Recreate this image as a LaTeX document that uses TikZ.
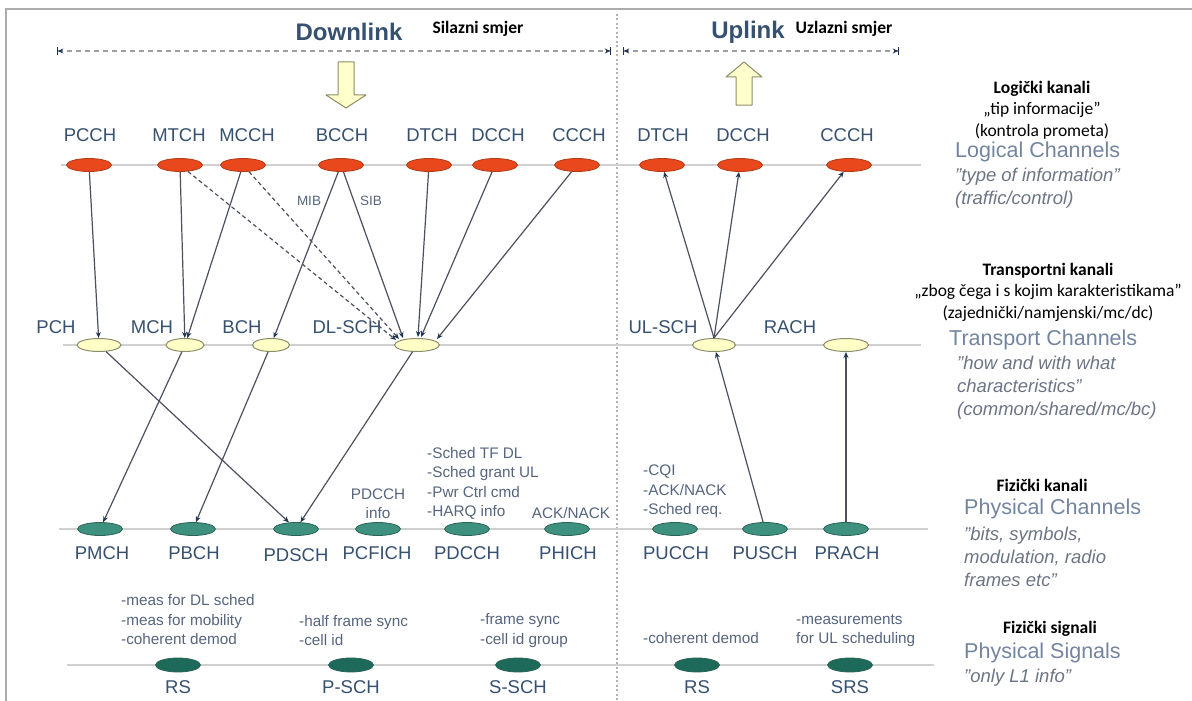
\documentclass[tikz,border=0pt]{standalone}
\usepackage{fontspec}
\setmainfont{Liberation Sans}
\newfontfamily\calibri{Carlito}
\usepackage{tikz}
\usetikzlibrary{shapes.geometric, arrows.meta, positioning, calc}
\definecolor{LTE_Red}{HTML}{E8481C}
\definecolor{LTE_RedEdge}{HTML}{B23A16}
\definecolor{LTE_Cream}{HTML}{FFFFC6}
\definecolor{LTE_CreamEdge}{HTML}{8C8C6E}
\definecolor{LTE_Teal}{HTML}{3E907F}
\definecolor{LTE_TealEdge}{HTML}{2B6457}
\definecolor{LTE_DarkTeal}{HTML}{1D6A5A}
\definecolor{LTE_Navy}{HTML}{36506F}
\definecolor{LTE_Slate}{HTML}{56657E}
\definecolor{LTE_Head}{HTML}{7485A0}
\definecolor{LTE_Grey}{HTML}{6D7585}
\definecolor{LTE_Line}{HTML}{4D5060}
\definecolor{LTE_Tip}{HTML}{1F3552}
\definecolor{LTE_Rule}{HTML}{D0D0D0}
\definecolor{LTE_Block}{HTML}{FFFFCC}

\begin{document}
\begin{tikzpicture}[x=1pt, y=-1pt,
    logch/.style={ellipse, draw=LTE_RedEdge, fill=LTE_Red, line width=0.8pt, minimum width=45pt, minimum height=13pt, inner sep=0pt},
    trch/.style={ellipse, draw=LTE_CreamEdge, fill=LTE_Cream, line width=1pt, minimum width=42pt, minimum height=13pt, inner sep=0pt},
    phch/.style={ellipse, draw=LTE_TealEdge, fill=LTE_Teal, line width=0.8pt, minimum width=45pt, minimum height=13pt, inner sep=0pt},
    phsig/.style={ellipse, draw=LTE_TealEdge, fill=LTE_DarkTeal, line width=0.8pt, minimum width=45pt, minimum height=14pt, inner sep=0pt},
    chlabel/.style={text=LTE_Navy, font=\fontsize{18.5}{20}\selectfont, inner sep=0pt},
    note/.style={text=LTE_Slate, font=\fontsize{15.3}{19.5}\selectfont, align=left, inner sep=0pt},
    hrlabel/.style={font=\calibri\fontsize{17.5}{21.5}\selectfont, align=center, inner sep=0pt},
    enhead/.style={text=LTE_Head, font=\fontsize{21.5}{23}\selectfont, anchor=west, inner sep=0pt},
    enit/.style={text=LTE_Grey, font=\itshape\fontsize{18.5}{23}\selectfont, anchor=west, align=left, inner sep=0pt},
    chanarrow/.style={draw=LTE_Line, line width=1.2pt, -{Stealth[length=6pt, width=5pt, color=LTE_Tip]}},
    dasharrow/.style={chanarrow, dash pattern=on 4pt off 3pt},
    layerline/.style={draw=LTE_Rule, line width=1.2pt},
    spanline/.style={draw=gray!75, line width=1.2pt, dash pattern=on 5pt off 4pt,
        {Bar[width=8pt, color=LTE_Tip]Stealth[length=5pt, width=5pt, color=LTE_Tip]}-{Stealth[length=5pt, width=5pt, color=LTE_Tip]Bar[width=8pt, color=LTE_Tip]}},
    blockarrow/.style={draw=gray!70!olive, fill=LTE_Block, line width=1pt, line join=round}]

    \useasboundingbox (0,0) rectangle (1192,701);
    \fill[white] (0,0) rectangle (1192,701);

    % ===== Frame and divider =====
    \draw[gray!65, line width=2.5pt] (6,701) -- (6,9) -- (1192,9);
    \draw[gray!60, line width=1.2pt, dash pattern=on 2pt off 2.5pt] (617,14) -- (617,701);

    % Layer lines
    \draw[layerline] (61,165) -- (921,165);
    \draw[layerline] (63,345) -- (921,345);
    \draw[layerline] (59,529) -- (928,529);
    \draw[layerline] (67,665) -- (934,665);

    % ===== Header: directions =====
    \node[text=LTE_Navy, font=\bfseries\fontsize{24}{26}\selectfont] (dl) at (349,32) {Downlink};
    \node[font=\calibri\bfseries\fontsize{17.5}{19}\selectfont] (dlhr) at (478,29) {Silazni smjer};
    \node[text=LTE_Navy, font=\bfseries\fontsize{24}{26}\selectfont] (ul) at (748,32) {Uplink};
    \node[font=\calibri\bfseries\fontsize{17.5}{19}\selectfont] (ulhr) at (844,29) {Uzlazni smjer};

    \coordinate (dlL) at (57,51);
    \coordinate (dlR) at (611,51);
    \coordinate (ulL) at (623,51);
    \coordinate (ulR) at (899,51);
    \draw[spanline] (dlL) -- (dlR);
    \draw[spanline] (ulL) -- (ulR);

    % Direction block arrows
    \draw[blockarrow] (338,62) -- (354,62) -- (354,95) -- (366,95) -- (346,108) -- (326,95) -- (338,95) -- cycle;
    \draw[blockarrow] (736,105) -- (752,105) -- (752,77) -- (762,77) -- (744,62) -- (726,77) -- (736,77) -- cycle;

    % ===== Logical channels =====
    \node[logch] (PCCH) at (89,165) {};
    \node[logch] (MTCH) at (180,165) {};
    \node[logch] (MCCH) at (243,165) {};
    \node[logch] (BCCH) at (341,165) {};
    \node[logch] (DTCH) at (429,165) {};
    \node[logch] (DCCH) at (495,165) {};
    \node[logch] (CCCH) at (577,165) {};
    \node[logch] (uDTCH) at (662,165) {};
    \node[logch] (uDCCH) at (740,165) {};
    \node[logch] (uCCCH) at (849,165) {};

    \node[chlabel] (PCCH-l) at (90,135) {PCCH};
    \node[chlabel] (MTCH-l) at (179,135) {MTCH};
    \node[chlabel] (MCCH-l) at (247,135) {MCCH};
    \node[chlabel] (BCCH-l) at (342,135) {BCCH};
    \node[chlabel] (DTCH-l) at (432,135) {DTCH};
    \node[chlabel] (DCCH-l) at (498,135) {DCCH};
    \node[chlabel] (CCCH-l) at (579,135) {CCCH};
    \node[chlabel] (uDTCH-l) at (663,135) {DTCH};
    \node[chlabel] (uDCCH-l) at (743,135) {DCCH};
    \node[chlabel] (uCCCH-l) at (847,135) {CCCH};

    % ===== Transport channels =====
    \node[trch, minimum width=44pt] (PCH) at (99,345) {};
    \node[trch, minimum width=38pt] (MCH) at (185,345) {};
    \node[trch, minimum width=37pt] (BCH) at (271,345) {};
    \node[trch, minimum width=45pt] (DLSCH) at (417,345) {};
    \node[trch, minimum width=43pt] (ULSCH) at (714,345) {};
    \node[trch, minimum width=45pt] (RACH) at (846,345) {};

    \node[chlabel] (PCH-l) at (56,327) {PCH};
    \node[chlabel] (MCH-l) at (152,327) {MCH};
    \node[chlabel] (BCH-l) at (242,327) {BCH};
    \node[chlabel] (DLSCH-l) at (347,327) {DL-SCH};
    \node[chlabel] (ULSCH-l) at (663,327) {UL-SCH};
    \node[chlabel] (RACH-l) at (790,327) {RACH};

    % ===== Physical channels =====
    \node[phch] (PMCH) at (100,529) {};
    \node[phch] (PBCH) at (193,529) {};
    \node[phch] (PDSCH) at (296,529) {};
    \node[phch] (PCFICH) at (378,529) {};
    \node[phch] (PDCCH) at (467,529) {};
    \node[phch] (PHICH) at (567,529) {};
    \node[phch] (PUCCH) at (675,529) {};
    \node[phch] (PUSCH) at (765,529) {};
    \node[phch] (PRACH) at (846,529) {};

    \node[chlabel] (PMCH-l) at (102,553) {PMCH};
    \node[chlabel] (PBCH-l) at (194,553) {PBCH};
    \node[chlabel] (PDSCH-l) at (296,555) {PDSCH};
    \node[chlabel] (PCFICH-l) at (377,553) {PCFICH};
    \node[chlabel] (PDCCH-l) at (467,553) {PDCCH};
    \node[chlabel] (PHICH-l) at (568,553) {PHICH};
    \node[chlabel] (PUCCH-l) at (676,553) {PUCCH};
    \node[chlabel] (PUSCH-l) at (765,553) {PUSCH};
    \node[chlabel] (PRACH-l) at (847,553) {PRACH};

    % Physical channel notes
    \node[note, align=center] (pcfichNote) at (378,503.5) {PDCCH\\info};
    \node[note, anchor=west] (pdcchNote) at (427,483.5) {-Sched TF DL\\-Sched grant UL\\-Pwr Ctrl cmd\\-HARQ info};
    \node[note] (phichNote) at (571,513) {ACK/NACK};
    \node[note, anchor=west] (pucchNote) at (643,491.5) {-CQI\\-ACK/NACK\\-Sched req.};

    % ===== Physical signals =====
    \node[phsig] (RS) at (178,665) {};
    \node[phsig] (PSCH) at (351,665) {};
    \node[phsig] (SSCH) at (518,665) {};
    \node[phsig] (uRS) at (697,665) {};
    \node[phsig] (SRS) at (850,665) {};

    \node[chlabel] (RS-l) at (178,687) {RS};
    \node[chlabel] (PSCH-l) at (351,687) {P-SCH};
    \node[chlabel] (SSCH-l) at (518,687) {S-SCH};
    \node[chlabel] (uRS-l) at (697,687) {RS};
    \node[chlabel] (SRS-l) at (850,687) {SRS};

    \node[note, anchor=west] (rsNote) at (121,620) {-meas for DL sched\\-meas for mobility\\-coherent demod};
    \node[note, anchor=west] (pschNote) at (299,630.5) {-half frame sync\\-cell id};
    \node[note, anchor=west] (sschNote) at (480,630.5) {-frame sync\\-cell id group};
    \node[note, anchor=west] (ursNote) at (643,638) {-coherent demod};
    \node[note, anchor=west] (srsNote) at (796,630.5) {-measurements\\for UL scheduling};

    % ===== Downlink mapping =====
    \draw[chanarrow] (PCCH) -- (PCH);
    \draw[chanarrow] (MTCH) -- (MCH);
    \draw[chanarrow] (MCCH) -- (MCH);
    \draw[dasharrow] (MTCH) -- ($(DLSCH.north)+(-21,2)$);
    \draw[dasharrow] (MCCH) -- ($(DLSCH.north)+(-18,1)$);
    \draw[chanarrow] (BCCH) -- (BCH);
    \draw[chanarrow] (BCCH) -- ($(DLSCH.north)+(-14,0)$);
    \draw[chanarrow] (DTCH) -- ($(DLSCH.north)+(1,-1)$);
    \draw[chanarrow] (DCCH) -- ($(DLSCH.north)+(4,-1)$);
    \draw[chanarrow] (CCCH) -- ($(DLSCH.north)+(20,1)$);
    \node[note, font=\fontsize{13.5}{15}\selectfont] (mib) at (309,201) {MIB};
    \node[note, font=\fontsize{13.5}{15}\selectfont] (sib) at (371,201) {SIB};

    \draw[chanarrow] (PCH) -- (PDSCH);
    \draw[chanarrow] (MCH) -- (PMCH);
    \draw[chanarrow] (BCH) -- (PBCH);
    \draw[chanarrow] (DLSCH) -- (PDSCH);

    % ===== Uplink mapping =====
    \draw[chanarrow] (ULSCH.north) -- (uDTCH);
    \draw[chanarrow] (ULSCH.north) -- (uDCCH);
    \draw[chanarrow] (ULSCH.north) -- (uCCCH);
    \draw[chanarrow] (PUSCH) -- (ULSCH);
    \draw[chanarrow] (PRACH) -- (RACH);

    % ===== Layer descriptions =====
    \node[hrlabel] (hrLog) at (1042,110) {\textbf{Logički kanali}\\„tip informacije”\\(kontrola prometa)};
    \node[enhead] (enLog) at (955,152) {Logical Channels};
    \node[enit] (enLogI) at (955,188) {"type of information"\\(traffic/control)};

    \node[hrlabel] (hrTr) at (1048,292) {\textbf{Transportni kanali}\\„zbog čega i s kojim karakteristikama”\\(zajednički/namjenski/mc/dc)};
    \node[enhead] (enTr) at (949,340) {Transport Channels};
    \node[enit] (enTrI) at (957,388) {"how and with what\\characteristics"\\(common/shared/mc/bc)};

    \node[hrlabel] (hrPh) at (1042,485) {\textbf{Fizički kanali}};
    \node[enhead] (enPh) at (964,509) {Physical Channels};
    \node[enit] (enPhI) at (964,557) {"bits, symbols,\\modulation, radio\\frames etc"};

    \node[hrlabel] (hrSig) at (1050,629) {\textbf{Fizički signali}};
    \node[enhead] (enSig) at (964,653) {Physical Signals};
    \node[enit] (enSigI) at (964,678) {"only L1 info"};
\end{tikzpicture}
\end{document}
